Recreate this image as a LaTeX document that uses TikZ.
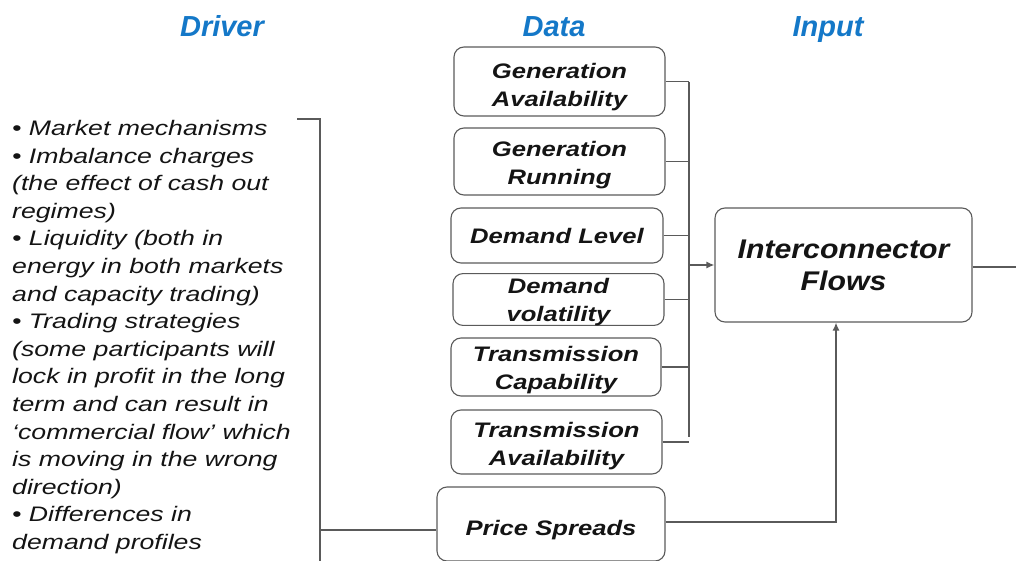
\documentclass[tikz,border=0pt]{standalone}
\usepackage{fontspec}
\setmainfont{Liberation Sans}
\newfontfamily\drvfont[FakeStretch=1.27]{Liberation Sans}
\newfontfamily\boxfont[FakeStretch=1.22]{Liberation Sans}
\newfontfamily\inpfont[FakeStretch=1.12]{Liberation Sans}
\usetikzlibrary{arrows.meta}
\definecolor{hdrblue}{RGB}{20,120,200}
\definecolor{edge}{RGB}{90,90,90}
\definecolor{ink}{RGB}{20,20,20}
% invisible strut that makes the first line taller, lowering the text in its box
\newcommand\toproom[1]{\rule{0pt}{#1}}
\begin{document}
\begin{tikzpicture}[x=1pt,y=-1pt,
  hdr/.style={font=\fontsize{29}{34}\selectfont\bfseries\itshape, text=hdrblue, inner sep=0pt, anchor=base},
  databox/.style={draw=edge, line width=1.1pt, rounded corners=10pt, align=center,
    inner sep=0pt, text=ink, font=\boxfont\fontsize{21}{28}\selectfont\bfseries\itshape},
  inputbox/.style={databox, font=\inpfont\fontsize{27}{32}\selectfont\bfseries\itshape},
  drvtext/.style={align=left, inner sep=0pt, text=ink, font=\drvfont\fontsize{21}{27.6}\selectfont\itshape},
  wire/.style={draw=edge, line width=1.5pt},
  tip/.style={-{Latex[length=8pt,width=7pt]}}]
\useasboundingbox (0,0) rectangle (1016,561);

% column headings
\node[hdr] (hdrv) at (222,36.5) {Driver};
\node[hdr] (hdat) at (554,36.5) {Data};
\node[hdr] (hinp) at (828,36.5) {Input};

% data boxes
\node[databox, minimum width=211pt, minimum height=69pt] (ga) at (559.5,81.5) {\toproom{25.5pt}Generation\\Availability};
\node[databox, minimum width=211pt, minimum height=67pt] (gr) at (559.5,161.5) {\toproom{22.5pt}Generation\\Running};
\node[databox, minimum width=212pt, minimum height=55pt] (dl) at (557,235.5) {Demand Level};
\node[databox, minimum width=211pt, minimum height=51pt] (dv) at (558.5,299.5) {\toproom{19.5pt}Demand\\volatility};
\node[databox, minimum width=210pt, minimum height=58pt] (tc) at (556,367) {\toproom{20.5pt}Transmission\\Capability};
\node[databox, minimum width=211pt, minimum height=64pt] (ta) at (556.5,442) {\toproom{23.5pt}Transmission\\Availability};
\node[databox, minimum width=228pt, minimum height=74pt] (ps) at (551,524) {\toproom{27pt}Price Spreads};

% input box
\node[inputbox, minimum width=257pt, minimum height=114pt] (ic) at (843.5,265) {Interconnector\\Flows};

% driver list
\node[drvtext, anchor=north west] (drv) at (12,120) {%
• Market mechanisms\\
• Imbalance charges\\
(the effect of cash out\\
regimes)\\
• Liquidity (both in\\
energy in both markets\\
and capacity trading)\\
• Trading strategies\\
(some participants will\\
lock in profit in the long\\
term and can result in\\
‘commercial flow’ which\\
is moving in the wrong\\
direction)\\
• Differences in\\
demand profiles};

% data bus into the input box
\coordinate (bustop) at (689,82);
\coordinate (busbot) at (689,437);
\draw[wire] (bustop) -- (busbot);
\foreach \b in {ga,gr,dl,dv,tc,ta}
  \draw[wire] (\b.east) -- (\b.east -| bustop);
\draw[wire, tip] (ic.west -| bustop) -- (ic.west);

% price spreads feed
\coordinate (psup) at (836,522);
\draw[wire, tip] (ps.east |- psup) -- (psup) -- (psup |- ic.south);

% driver bracket
\coordinate (brtop) at (297,119);
\coordinate (brcorner) at (320,119);
\coordinate (brend) at (320,561);
\coordinate (brjoin) at (320,530);
\draw[wire] (brtop) -- (brcorner) -- (brend);
\draw[wire] (brjoin) -- (brjoin -| ps.west);

% output line
\coordinate (outend) at (1016,267);
\draw[wire] (ic.east |- outend) -- (outend);
\end{tikzpicture}
\end{document}
